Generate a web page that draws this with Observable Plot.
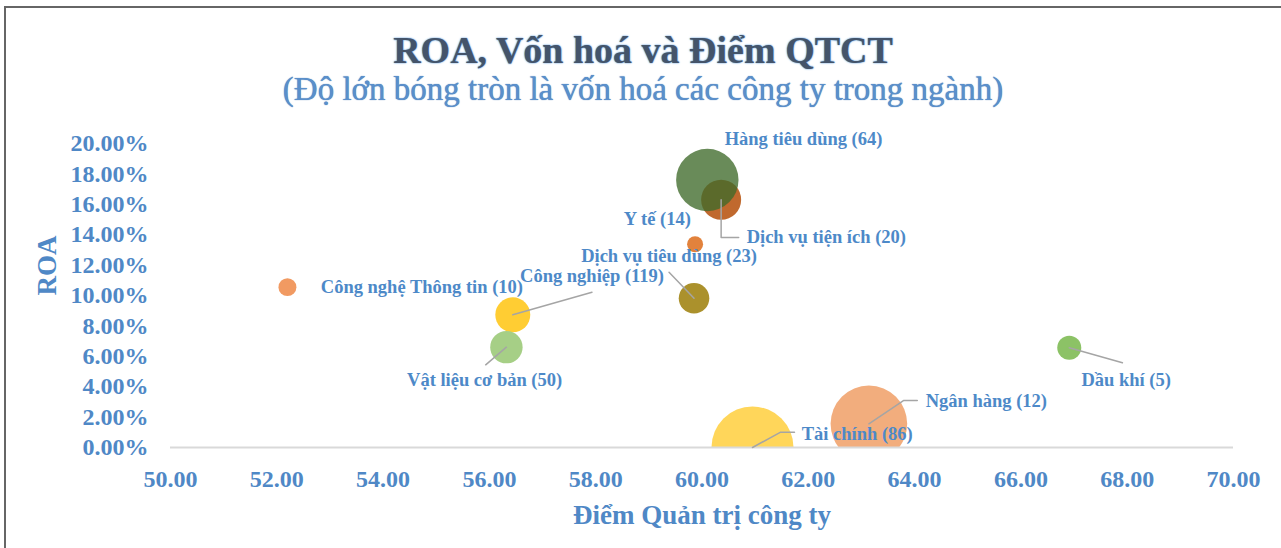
<!DOCTYPE html>
<html><head><meta charset="utf-8">
<script src="https://cdn.jsdelivr.net/npm/d3@7"></script>
<script src="https://cdn.jsdelivr.net/npm/@observablehq/plot@0.6"></script>
<style>
body{margin:0;background:#fff;width:1281px;height:548px;overflow:hidden;position:relative;font-family:"Liberation Serif","Times New Roman",serif}
#frame{position:absolute;left:4px;top:6px;right:0;bottom:-4px;border-top:2px solid #666;border-left:2px solid #666}
#title{position:absolute;left:5px;width:1276px;top:28px;text-align:center;font-size:38px;font-weight:bold;color:#44546a;text-shadow:0 0 2px #6aa3dc,0 0 1px #6aa3dc;line-height:44px;white-space:nowrap}
#subtitle{position:absolute;left:5px;width:1276px;top:70px;text-align:center;font-size:33px;color:#5a8fcb;text-shadow:0 0 1px #3f74b0;line-height:38px;white-space:nowrap}
#chart{position:absolute;left:0;top:115px}
</style></head>
<body>
<div id="frame"></div>
<div id="title">ROA, Vốn hoá và Điểm QTCT</div>
<div id="subtitle">(Độ lớn bóng tròn là vốn hoá các công ty trong ngành)</div>
<div id="chart"></div>
<script>
// --- data ---
const sectors = ["Công nghệ Thông tin (10)", "Công nghiệp (119)", "Vật liệu cơ bản (50)", "Dịch vụ tiêu dùng (23)", "Y tế (14)", "Dịch vụ tiện ích (20)", "Hàng tiêu dùng (64)", "Tài chính (86)", "Ngân hàng (12)", "Dầu khí (5)"];
const governanceScore = [52.20, 56.44, 56.32, 59.85, 59.87, 60.36, 60.10, 60.95, 63.14, 66.91];
const roa = [0.1055, 0.0873, 0.0660, 0.0982, 0.1337, 0.1630, 0.1760, 0.0000, 0.0156, 0.0656];
const marketCap = [4.8, 18.2, 15.6, 13.9, 3.8, 23.8, 57.9, 100, 87.3, 8.6];
// data-label placement (in data units, like Excel's label positions)
const labelX = [54.73, 57.93, 55.91, 59.38, 59.16, 60.84, 61.91, 62.92, 65.35, 67.98];
const labelY = [0.1055, 0.1127, 0.0441, 0.1257, 0.1500, 0.1382, 0.2026, 0.0090, 0.0303, 0.0441];
const labelAlign = ["middle", "middle", "middle", "middle", "middle", "start", "middle", "middle", "middle", "middle"];
// leader lines: intermediate points between bubble and label (data units)
const leaderPts = [
  [],
  [[57.93, 0.1022]],
  [[55.93, 0.0544]],
  [[59.38, 0.1153]],
  [],
  [[60.36, 0.1382], [60.69, 0.1382]],
  [],
  [[61.48, 0.0101], [61.74, 0.0101]],
  [[63.79, 0.0309], [64.05, 0.0309]],
  [[67.91, 0.0557]]
];
const xTicks = [50, 52, 54, 56, 58, 60, 62, 64, 66, 68, 70];
const yTicks = [0, 0.02, 0.04, 0.06, 0.08, 0.10, 0.12, 0.14, 0.16, 0.18, 0.20];
// styles
const bubbleColors = ["#f19a62", "#ffcd33", "#a6cf86", "#ab912c", "#e2823c", "#c0692e", "rgba(63,106,42,0.78)", "#ffd65a", "#f2ad7d", "#8cc266"];

const bubbles = sectors.map((s, i) => ({name: s, x: governanceScore[i], y: roa[i], cap: marketCap[i], color: bubbleColors[i],
  lx: labelX[i], ly: labelY[i], align: labelAlign[i]}));
const leaders = [];
sectors.forEach((s, i) => {
  if (leaderPts[i].length) {
    leaders.push({k: i, x: governanceScore[i], y: roa[i]});
    leaderPts[i].forEach(p => leaders.push({k: i, x: p[0], y: p[1]}));
  }
});

const fontFamily = '"Liberation Serif","Times New Roman",serif';
const chart = Plot.plot({
  width: 1281,
  height: 433,
  marginLeft: 170,
  marginRight: 48,
  marginTop: 28,
  marginBottom: 101,
  style: {fontFamily, fontWeight: "bold", color: "#4f88c6", background: "transparent", overflow: "visible"},
  x: {domain: [50, 70]},
  y: {domain: [0, 0.2]},
  r: {type: "sqrt", domain: [0, 100], range: [0, 41]},
  marks: [
    Plot.dot(bubbles, {x: "x", y: "y", r: "cap", fill: "color", stroke: "none", clip: true, sort: null}),
    Plot.ruleY([0], {stroke: "#d9d9d9", strokeWidth: 2}),
    Plot.line(leaders, {x: "x", y: "y", z: "k", stroke: "#a5a5a5", strokeWidth: 1.5, curve: "linear"}),
    Plot.text(bubbles.filter(d => d.align === "middle"), {x: "lx", y: "ly", text: "name", fontSize: 18.5, fill: "#4d89c8", textAnchor: "middle"}),
    Plot.text(bubbles.filter(d => d.align === "start"), {x: "lx", y: "ly", text: "name", fontSize: 18.5, fill: "#4d89c8", textAnchor: "start"}),
    Plot.axisY({ticks: yTicks, tickFormat: d3.format(".2%"), tickSize: 0, tickPadding: 22, fontSize: 24, label: null}),
    Plot.axisX({ticks: xTicks, tickFormat: d3.format(".2f"), tickSize: 0, tickPadding: 22, fontSize: 24, label: null}),
    Plot.text(["ROA"], {frameAnchor: "left", dx: -123, rotate: -90, fontSize: 27, fill: "#4f88c6"}),
    Plot.text(["Điểm Quản trị công ty"], {frameAnchor: "bottom", dy: 76, fontSize: 27, fill: "#4f88c6"})
  ]
});
document.getElementById("chart").appendChild(chart);
</script>
</body></html>
